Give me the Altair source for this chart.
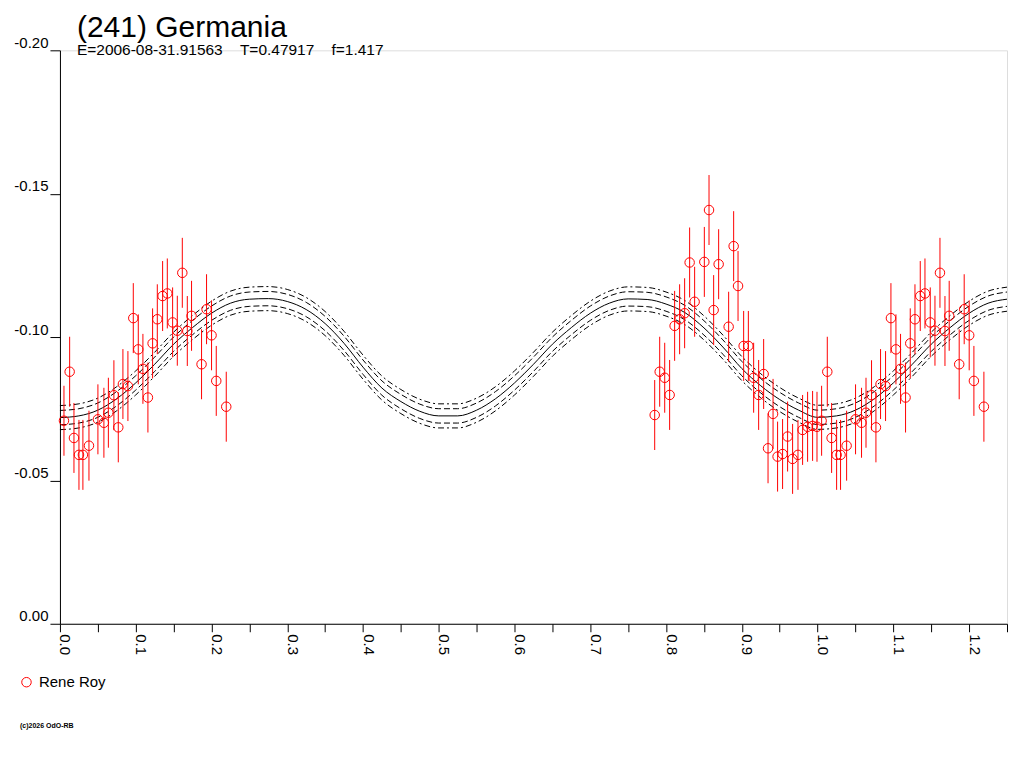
import altair as alt
import pandas as pd

TITLE = "(241) Germania"
SUBTITLE = "E=2006-08-31.91563\u00a0\u00a0\u00a0\u00a0T=0.47917\u00a0\u00a0\u00a0\u00a0f=1.417"
OBSERVER = "Rene Roy"
FOOTER = "(c)2026 OdO-RB"
RED = "#ff0000"
FONT = "Liberation Sans"

PHASE = [0.0053, 0.0128, 0.0185, 0.0251, 0.0303, 0.0383, 0.0501, 0.0580, 0.0639, 0.0712,
         0.0770, 0.0831, 0.0897, 0.0968, 0.1034, 0.1095, 0.1161, 0.1223, 0.1285, 0.1355,
         0.1417, 0.1487, 0.1549, 0.1615, 0.1681, 0.1737, 0.1869, 0.1935, 0.2001, 0.2063,
         0.2195,
         0.7850, 0.7916, 0.7982, 0.8047, 0.8113, 0.8179, 0.8245, 0.8311, 0.8377, 0.8505,
         0.8567, 0.8628, 0.8694, 0.8826, 0.8892, 0.8950, 0.9024, 0.9086, 0.9156, 0.9222,
         0.9288, 0.9346, 0.9412, 0.9472, 0.9538, 0.9604, 0.9670, 0.9741, 0.9802, 0.9868,
         0.9934, 0.9992]
MAG = [-0.0708, -0.0879, -0.0648, -0.0589, -0.0589, -0.0621, -0.0713, -0.0701, -0.0736, -0.0797,
       -0.0685, -0.0836, -0.0829, -0.1066, -0.0957, -0.0889, -0.0789, -0.0978, -0.1062, -0.1143,
       -0.1152, -0.1051, -0.1022, -0.1224, -0.1021, -0.1074, -0.0905, -0.1097, -0.1006, -0.0847,
       -0.0757,
       -0.0728, -0.0879, -0.0858, -0.0798, -0.1039, -0.1062, -0.1083, -0.1260, -0.1123, -0.1262,
       -0.1443, -0.1094, -0.1254, -0.1036, -0.1317, -0.1178, -0.0969, -0.0969, -0.0858, -0.0798,
       -0.0871, -0.0612, -0.0732, -0.0583, -0.0592, -0.0653, -0.0575, -0.0589, -0.0676, -0.0687,
       -0.0690, -0.0687]
ERR = 0.0122

# fitted curve
CURVE_PHASE = [0.000, 0.025, 0.050, 0.075, 0.100, 0.125, 0.150, 0.175, 0.200, 0.225,
               0.250, 0.275, 0.300, 0.325, 0.350, 0.375, 0.400, 0.425, 0.450, 0.475,
               0.500, 0.525, 0.550, 0.575, 0.600, 0.625, 0.650, 0.675, 0.700, 0.725,
               0.750, 0.775, 0.800, 0.825, 0.850, 0.875, 0.900, 0.925, 0.950, 0.975,
               1.000, 1.025, 1.050, 1.075, 1.100, 1.125, 1.150, 1.175, 1.200, 1.225,
               1.250]
CURVE_MAG = [-0.0719, -0.0725, -0.0745, -0.0785, -0.0840, -0.0905, -0.0975, -0.1033, -0.1083, -0.1118,
             -0.1132, -0.1134, -0.1124, -0.1096, -0.1047, -0.0978, -0.0895, -0.0822, -0.0775, -0.0741,
             -0.0725, -0.0725, -0.0745, -0.0785, -0.0840, -0.0905, -0.0975, -0.1033, -0.1083, -0.1118,
             -0.1133, -0.1131, -0.1115, -0.1085, -0.1032, -0.0965, -0.0890, -0.0830, -0.0782, -0.0745,
             -0.0720, -0.0725, -0.0745, -0.0785, -0.0840, -0.0905, -0.0975, -0.1033, -0.1083, -0.1118,
             -0.1132]
BAND_INNER = 0.0025
BAND_OUTER = 0.0042

X_TICKS = [0.0, 0.05, 0.1, 0.15, 0.2, 0.25, 0.3, 0.35, 0.4, 0.45, 0.5, 0.55, 0.6,
           0.65, 0.7, 0.75, 0.8, 0.85, 0.9, 0.95, 1.0, 1.05, 1.1, 1.15, 1.2, 1.25]
Y_TICKS = [-0.20, -0.15, -0.10, -0.05, 0.00]

obs = pd.DataFrame({"phase": PHASE, "mag": MAG})
obs["observer"] = OBSERVER
wrap = obs[obs["phase"] < 0.25].copy()
wrap["phase"] = wrap["phase"] + 1.0
obs = pd.concat([obs, wrap], ignore_index=True)
obs["lo"] = obs["mag"] - ERR
obs["hi"] = obs["mag"] + ERR

curve = pd.DataFrame({"phase": CURVE_PHASE, "mag": CURVE_MAG})

x_axis = alt.Axis(values=X_TICKS, labelExpr="round(datum.value*100) % 10 == 0 ? format(datum.value, '.1f') : ''",
                  labelAngle=90, labelAlign="left", labelBaseline="alphabetic", labelPadding=2,
                  tickSize=8, grid=False, domainColor="black", tickColor="black", labelColor="black",
                  labelFont=FONT, labelFontSize=15, labelOverlap=False, labelFlush=False, title=None)
y_axis = alt.Axis(values=Y_TICKS, labelExpr="replace(format(datum.value, '.2f'), '\u2212', '-')",
                  labelAlign="right", labelBaseline="bottom", labelPadding=2, tickSize=10,
                  grid=False, domainColor="black", tickColor="black", labelColor="black",
                  labelFont=FONT, labelFontSize=15, labelOverlap=False, labelFlush=False, title=None)
x_scale = alt.Scale(domain=[0, 1.25], nice=False, zero=False)
y_scale = alt.Scale(domain=[-0.2, 0], reverse=True, nice=False, zero=False)


def X(field):
    return alt.X(f"{field}:Q", scale=x_scale, axis=x_axis)


def Y(field):
    return alt.Y(f"{field}:Q", scale=y_scale, axis=y_axis)


layers = []
for off, dash in [(0.0, None), (-BAND_INNER, [6, 3]), (BAND_INNER, [6, 3]),
                  (-BAND_OUTER, [6, 3, 2, 3]), (BAND_OUTER, [6, 3, 2, 3])]:
    kw = dict(color="black", strokeWidth=1, interpolate="monotone")
    if dash:
        kw["strokeDash"] = dash
    layers.append(
        alt.Chart(curve).transform_calculate(yy=f"datum.mag + ({off})")
        .mark_line(**kw).encode(x=X("phase"), y=Y("yy"))
    )

bars = alt.Chart(obs).mark_rule(color=RED, strokeWidth=1).encode(
    x=X("phase"), y=Y("lo"), y2="hi")

points = alt.Chart(obs).mark_point(shape="circle", filled=False, size=90, strokeWidth=1, opacity=1).encode(
    x=X("phase"), y=Y("mag"),
    color=alt.Color("observer:N", scale=alt.Scale(domain=[OBSERVER], range=[RED]),
                    legend=alt.Legend(title=None, orient="none", legendX=-41, legendY=625, padding=0,
                                      labelFont=FONT, labelFontSize=15, labelColor="black",
                                      labelOffset=5, symbolType="circle", symbolSize=90,
                                      symbolStrokeWidth=1, symbolOpacity=1)))

footer = alt.Chart(pd.DataFrame({"t": [FOOTER]})).mark_text(
    align="left", baseline="alphabetic", font=FONT, fontSize=7, fontWeight="bold", color="black"
).encode(x=alt.value(-40), y=alt.value(678), text="t:N")

chart = alt.layer(*layers, bars, points, footer).properties(
    width=948, height=574,
    autosize=alt.AutoSizeParams(type="none"),
    padding={"left": 52, "top": 42, "right": 9, "bottom": 120},
    title=alt.Title(TITLE, subtitle=SUBTITLE, anchor="start", frame="group", dx=17, offset=-23,
                    fontSize=30, font=FONT, fontWeight="normal", color="black",
                    subtitleFont=FONT, subtitleFontSize=15.5, subtitleColor="black", subtitlePadding=0),
).configure_view(stroke=None).configure(background="white")

chart.save("out.html", embed_options={"renderer": "svg", "actions": False})
